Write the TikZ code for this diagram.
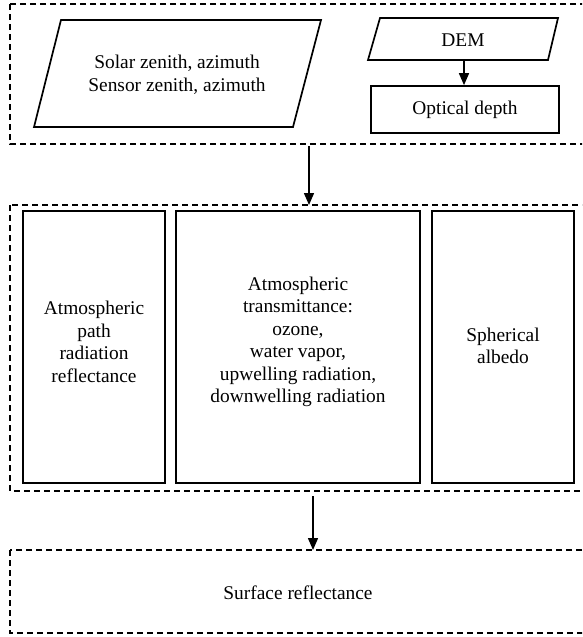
\documentclass[tikz,border=0pt]{standalone}
\usepackage{fontspec}
\setmainfont{Liberation Serif}
\usetikzlibrary{arrows.meta}
\begin{document}
\begin{tikzpicture}[x=1pt,y=-1pt,
  txt/.style={font=\fontsize{19.4}{22.5}\selectfont, align=center, inner sep=0pt},
  dbox/.style={draw, line width=2.6pt, dash pattern=on 6pt off 4pt},
  sbox/.style={draw, line width=1.7pt},
  arr/.style={line width=1.5pt, -{Triangle[length=12pt,width=10pt]}}]
\useasboundingbox (0,0) rectangle (582,637);
\clip (0,0) rectangle (582,637);
% dashed group boxes
\draw[dbox] (10,4) rectangle (588,144);
\draw[dbox] (10,205) rectangle (588,491);
\draw[dbox] (10,550) rectangle (588,633);
\coordinate (topS) at (309,146);
\coordinate (midN) at (309,205);
\coordinate (midS) at (313,496);
\coordinate (botN) at (313,550);
% top group
\draw[sbox] (61,20) -- (321,20) -- (293,127) -- (34,127) -- cycle;
\node[txt] (geo) at (177,75) {Solar zenith, azimuth\\Sensor zenith, azimuth};
\draw[sbox] (380,18) -- (558,18) -- (548,60) -- (368,60) -- cycle;
\node[txt] (dem) at (463,40) {DEM};
\coordinate (demS) at (464,60);
\node[sbox, minimum width=188pt, minimum height=47pt, inner sep=0pt] (opt) at (465,109.5) {};
\node[txt] (optt) at (465,110) {Optical depth};
\draw[arr] (demS) -- (opt.north -| demS);
% middle group
\node[sbox, minimum width=142pt, minimum height=272pt, inner sep=0pt] (b1) at (94,347) {};
\node[txt] at (94,342) {Atmospheric\\path\\radiation\\reflectance};
\node[sbox, minimum width=244pt, minimum height=272pt, inner sep=0pt] (b2) at (298,347) {};
\node[txt] at (298,342) {Atmospheric\\transmittance:\\ozone,\\water vapor,\\upwelling radiation,\\downwelling radiation};
\node[sbox, minimum width=142pt, minimum height=272pt, inner sep=0pt] (b3) at (503,347) {};
\node[txt] at (503,346) {Spherical\\albedo};
% bottom group
\node[txt] (surf) at (298,593) {Surface reflectance};
% arrows between groups
\draw[arr] (topS) -- (midN);
\draw[arr] (midS) -- (botN);
\end{tikzpicture}
\end{document}
